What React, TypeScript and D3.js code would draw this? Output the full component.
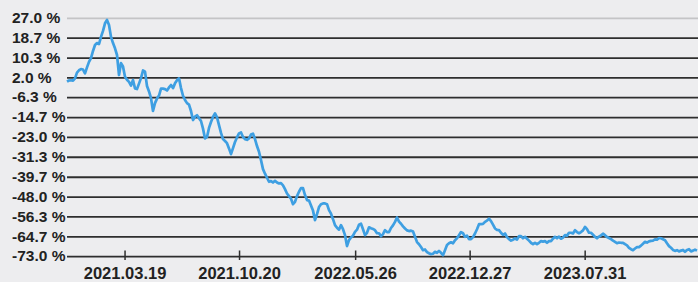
import React from "react";
import * as d3 from "d3";

const startDate = "2020-11-30";
const endDate = "2024-02-26";

const values: number[] = [
  0.4, 0.9, 1.0, 0.8, 1.8, 4.2, 5.2, 5.7, 5.5, 3.9,
  6.4, 8.7, 10.3, 13.3, 15.8, 16.6, 16.2, 19.2, 21.7, 24.9,
  26.3, 24.2, 19.2, 16.6, 14.4, 11.6, 3.2, 8.2, 6.8, 2.5,
  1.2, 0.3, -1.2, 1.1, -2.4, -2.7, -0.4, 1.9, 5.1, 4.6,
  -1.4, -3.7, -6.5, -11.9, -8.6, -6.7, -5.4, -2.5, -2.5, -2.7,
  -3.3, -2.0, -1.0, -2.3, -0.3, 1.0, 1.8, -2.3, -5.5, -7.3,
  -8.6, -9.2, -11.9, -15.7, -14.3, -13.7, -14.9, -16.1, -19.3, -23.4,
  -22.8, -19.0, -16.5, -14.4, -12.9, -14.6, -17.8, -21.1, -23.7, -24.5,
  -25.4, -27.6, -30.0, -27.5, -24.9, -23.0, -21.3, -20.9, -22.8, -23.7,
  -24.0, -23.4, -21.8, -21.4, -23.7, -26.6, -29.0, -32.5, -36.3, -38.2,
  -39.9, -41.6, -41.3, -41.9, -41.2, -41.9, -42.3, -42.2, -43.1, -44.7,
  -46.5, -47.6, -48.7, -51.0, -50.0, -47.6, -45.8, -44.3, -44.3, -47.2,
  -49.3, -49.5, -51.6, -53.7, -57.7, -55.2, -52.2, -51.0, -50.7, -50.7,
  -51.0, -53.5, -55.0, -57.3, -59.8, -60.9, -61.7, -59.8, -61.5, -64.0,
  -68.6, -66.1, -65.0, -64.2, -62.6, -61.7, -59.6, -59.2, -61.5, -64.0,
  -63.0, -60.7, -61.1, -61.4, -61.9, -63.2, -63.2, -64.4, -63.6, -61.9,
  -62.7, -62.7, -61.0, -59.9, -58.4, -56.6, -58.3, -59.2, -60.3, -61.2,
  -62.0, -62.3, -62.1, -62.5, -64.7, -66.9, -67.8, -69.0, -70.3, -70.0,
  -71.1, -71.6, -72.0, -71.8, -71.0, -71.4, -70.6, -71.4, -72.4, -70.3,
  -68.1, -67.4, -67.0, -67.4, -66.1, -65.3, -64.0, -62.7, -63.2, -64.7,
  -64.2, -65.7, -65.7, -64.8, -63.3, -61.5, -59.4, -59.4, -59.3, -58.4,
  -57.9, -57.1, -58.1, -59.6, -61.2, -61.8, -61.9, -63.0, -63.9, -63.3,
  -64.8, -65.7, -66.3, -65.9, -65.4, -65.9, -64.4, -64.4, -65.3, -64.7,
  -65.5, -66.3, -67.2, -67.8, -67.2, -67.8, -67.2, -66.5, -66.7, -66.5,
  -67.2, -66.5, -66.5, -65.5, -64.7, -65.3, -64.6, -65.5, -65.0, -64.0,
  -64.2, -63.0, -63.0, -63.3, -61.9, -62.7, -63.2, -62.7, -62.0, -60.5,
  -61.5, -63.0, -63.0, -63.8, -64.7, -65.3, -64.6, -64.1, -63.4, -64.0,
  -64.8, -65.2, -65.7, -66.3, -66.8, -67.4, -67.1, -67.2, -67.2, -67.8,
  -68.3, -69.3, -69.9, -70.3, -69.6, -69.0, -69.0, -68.4, -67.6, -66.8,
  -67.1, -66.6, -66.4, -66.3, -65.8, -65.9, -65.2, -65.3, -65.7, -66.1,
  -67.4, -68.6, -69.3, -70.2, -70.6, -70.3, -70.8, -70.5, -70.2, -71.0,
  -70.2, -69.9, -70.8, -70.5, -70.1, -70.5,
];

const yTicks: number[] = [27.0, 18.7, 10.3, 2.0, -6.3, -14.7, -23.0, -31.3, -39.7, -48.0, -56.3, -64.7, -73.0];
const yTickLabels: string[] = ["27.0 %", "18.7 %", "10.3 %", "2.0 %", "-6.3 %", "-14.7 %", "-23.0 %", "-31.3 %", "-39.7 %", "-48.0 %", "-56.3 %", "-64.7 %", "-73.0 %"];
const xTickDates: string[] = ["2021-03-19", "2021-10-20", "2022-05-26", "2022-12-27", "2023-07-31"];
const xTickLabels: string[] = ["2021.03.19", "2021.10.20", "2022.05.26", "2022.12.27", "2023.07.31"];

const W = 698;
const H = 282;
const FONT = "'Liberation Sans', Arial, sans-serif";

export default function App() {
  const parse = d3.utcParse("%Y-%m-%d");
  const t0 = parse(startDate)!.getTime();
  const t1 = parse(endDate)!.getTime();
  const n = values.length;
  const data = values.map((v, i) => ({ date: new Date(t0 + (i * (t1 - t0)) / (n - 1)), v }));

  const x = d3.scaleUtc().domain([new Date(t0), new Date(t1)]).range([67, 697]);
  const y = d3.scaleLinear().domain([-73, 27]).range([256.6, 18.3]);

  const line = d3
    .line<{ date: Date; v: number }>()
    .x((d) => x(d.date))
    .y((d) => y(d.v))
    .curve(d3.curveLinear);

  return (
    <svg width={W} height={H} style={{ position: "absolute", left: 0, top: 0, display: "block" }}>
      <rect x={0} y={0} width={W} height={H} fill="#ededef" />
      {yTicks.map((t, i) => (
        <line
          key={"g" + i}
          x1={67}
          x2={W}
          y1={y(t)}
          y2={y(t)}
          stroke={i === 0 ? "#c4c4c6" : "#2e2e2e"}
          strokeWidth={1.8}
        />
      ))}
      {yTicks.map((t, i) => (
        <text
          key={"yl" + i}
          x={12}
          y={y(t) + 4.8}
          fontFamily={FONT}
          fontWeight="bold"
          fontSize={15.5}
          fill="#222"
        >
          {yTickLabels[i]}
        </text>
      ))}
      {xTickDates.map((d, i) => {
        const xx = x(parse(d)!);
        return (
          <g key={"xt" + i}>
            <line x1={xx} x2={xx} y1={250.5} y2={260} stroke="#2e2e2e" strokeWidth={1.5} />
            <text
              x={xx}
              y={279}
              textAnchor="middle"
              fontFamily={FONT}
              fontWeight="bold"
              fontSize={16.5}
              fill="#222"
            >
              {xTickLabels[i]}
            </text>
          </g>
        );
      })}
      <path d={line(data) || ""} fill="none" stroke="#3e9fe2" strokeWidth={2.7} strokeLinejoin="round" />
    </svg>
  );
}
